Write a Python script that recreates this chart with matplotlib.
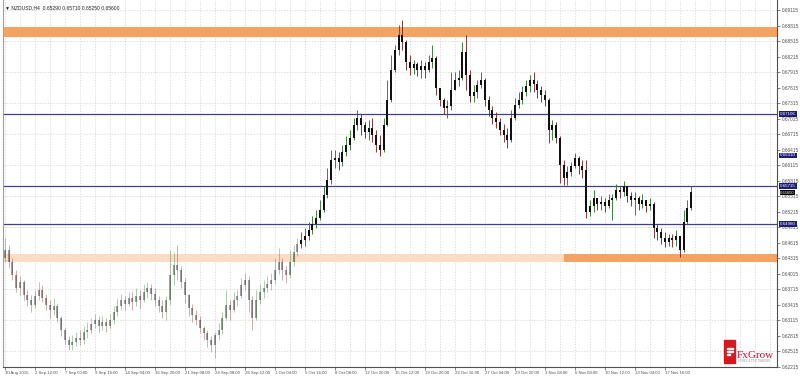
import matplotlib
matplotlib.use('Agg')
import matplotlib.pyplot as plt
import matplotlib.transforms as mtransforms
from matplotlib.colors import to_rgba
from matplotlib.patches import Rectangle
import numpy as np

# --- data: NZDUSD H4 candles ---
symbol = 'NZDUSD,H4'
first_open = 0.6432

closes = [
    0.6448, 0.6425, 0.6399, 0.6374, 0.6386, 0.6361, 0.6351, 0.6341, 0.6359, 0.6370,
    0.6355, 0.6341, 0.6332, 0.6340, 0.6316, 0.6293, 0.6274, 0.6264, 0.6270, 0.6278,
    0.6274, 0.6289, 0.6293, 0.6305, 0.6312, 0.6301, 0.6309, 0.6301, 0.6312, 0.6328,
    0.6340, 0.6351, 0.6343, 0.6355, 0.6347, 0.6359, 0.6351, 0.6367, 0.6374, 0.6363,
    0.6351, 0.6340, 0.6328, 0.6351, 0.6399, 0.6419, 0.6409, 0.6386, 0.6361, 0.6336,
    0.6322, 0.6312, 0.6297, 0.6287, 0.6274, 0.6264, 0.6283, 0.6293, 0.6316, 0.6341,
    0.6332, 0.6351, 0.6359, 0.6380, 0.6390, 0.6351, 0.6316, 0.6351, 0.6367, 0.6374,
    0.6382, 0.6390, 0.6409, 0.6425, 0.6409, 0.6399, 0.6425, 0.6444, 0.6459, 0.6467,
    0.6475, 0.6486, 0.6498, 0.6510, 0.6525, 0.6554, 0.6583, 0.6622, 0.6626, 0.6618,
    0.6637, 0.6651, 0.6664, 0.6689, 0.6703, 0.6689, 0.6676, 0.6684, 0.6670, 0.6651,
    0.6641, 0.6689, 0.6738, 0.6796, 0.6834, 0.6863, 0.6850, 0.6811, 0.6800, 0.6807,
    0.6796, 0.6803, 0.6796, 0.6811, 0.6819, 0.6761, 0.6738, 0.6722, 0.6726, 0.6757,
    0.6776, 0.6780, 0.6830, 0.6786, 0.6745, 0.6753, 0.6767, 0.6776, 0.6738, 0.6718,
    0.6703, 0.6695, 0.6680, 0.6670, 0.6660, 0.6703, 0.6728, 0.6738, 0.6753, 0.6765,
    0.6776, 0.6769, 0.6757, 0.6747, 0.6738, 0.6680, 0.6689, 0.6664, 0.6612, 0.6587,
    0.6599, 0.6610, 0.6626, 0.6610, 0.6602, 0.6521, 0.6533, 0.6548, 0.6537, 0.6541,
    0.6533, 0.6544, 0.6548, 0.6564, 0.6560, 0.6571, 0.6552, 0.6544, 0.6548, 0.6537,
    0.6544, 0.6533, 0.6537, 0.6490, 0.6483, 0.6471, 0.6463, 0.6471, 0.6467, 0.6475,
    0.6448, 0.6502, 0.6529, 0.6560,
]

highs = [
    0.6471, 0.6457, 0.6432, 0.6409, 0.6397, 0.6390, 0.6370, 0.6361, 0.6370, 0.6386,
    0.6380, 0.6363, 0.6351, 0.6355, 0.6343, 0.6320, 0.6297, 0.6282, 0.6283, 0.6289,
    0.6293, 0.6301, 0.6309, 0.6316, 0.6324, 0.6320, 0.6320, 0.6316, 0.6324, 0.6340,
    0.6355, 0.6363, 0.6359, 0.6367, 0.6367, 0.6374, 0.6370, 0.6382, 0.6386, 0.6382,
    0.6374, 0.6359, 0.6351, 0.6359, 0.6448, 0.6444, 0.6457, 0.6417, 0.6394, 0.6363,
    0.6343, 0.6332, 0.6320, 0.6301, 0.6293, 0.6282, 0.6289, 0.6307, 0.6328, 0.6370,
    0.6351, 0.6367, 0.6370, 0.6394, 0.6403, 0.6397, 0.6359, 0.6370, 0.6382, 0.6390,
    0.6397, 0.6403, 0.6432, 0.6452, 0.6432, 0.6417, 0.6448, 0.6457, 0.6471, 0.6483,
    0.6490, 0.6502, 0.6513, 0.6525, 0.6544, 0.6571, 0.6606, 0.6641, 0.6641, 0.6637,
    0.6651, 0.6668, 0.6680, 0.6703, 0.6718, 0.6711, 0.6695, 0.6699, 0.6703, 0.6680,
    0.6670, 0.6703, 0.6776, 0.6825, 0.6844, 0.6883, 0.6892, 0.6854, 0.6825, 0.6815,
    0.6811, 0.6815, 0.6811, 0.6825, 0.6844, 0.6823, 0.6761, 0.6742, 0.6738, 0.6792,
    0.6792, 0.6796, 0.6850, 0.6863, 0.6796, 0.6767, 0.6776, 0.6792, 0.6780, 0.6745,
    0.6726, 0.6715, 0.6703, 0.6691, 0.6684, 0.6718, 0.6742, 0.6753, 0.6765, 0.6776,
    0.6786, 0.6792, 0.6776, 0.6765, 0.6757, 0.6742, 0.6699, 0.6695, 0.6668, 0.6622,
    0.6610, 0.6618, 0.6635, 0.6629, 0.6622, 0.6622, 0.6544, 0.6564, 0.6548, 0.6552,
    0.6548, 0.6556, 0.6556, 0.6575, 0.6571, 0.6581, 0.6571, 0.6560, 0.6560, 0.6552,
    0.6556, 0.6544, 0.6548, 0.6541, 0.6498, 0.6490, 0.6483, 0.6479, 0.6479, 0.6486,
    0.6475, 0.6525, 0.6544, 0.6571,
]

lows = [
    0.6425, 0.6413, 0.6390, 0.6367, 0.6361, 0.6351, 0.6340, 0.6328, 0.6336, 0.6351,
    0.6347, 0.6332, 0.6316, 0.6322, 0.6309, 0.6282, 0.6266, 0.6254, 0.6254, 0.6262,
    0.6264, 0.6266, 0.6278, 0.6285, 0.6297, 0.6289, 0.6293, 0.6289, 0.6297, 0.6305,
    0.6320, 0.6332, 0.6332, 0.6340, 0.6332, 0.6340, 0.6336, 0.6347, 0.6355, 0.6351,
    0.6340, 0.6328, 0.6316, 0.6312, 0.6341, 0.6380, 0.6390, 0.6374, 0.6345, 0.6320,
    0.6309, 0.6303, 0.6287, 0.6274, 0.6260, 0.6251, 0.6239, 0.6274, 0.6285, 0.6312,
    0.6312, 0.6328, 0.6340, 0.6355, 0.6370, 0.6328, 0.6293, 0.6312, 0.6343, 0.6355,
    0.6367, 0.6370, 0.6382, 0.6401, 0.6390, 0.6384, 0.6394, 0.6417, 0.6436, 0.6452,
    0.6455, 0.6467, 0.6479, 0.6490, 0.6506, 0.6521, 0.6548, 0.6575, 0.6606, 0.6602,
    0.6610, 0.6629, 0.6641, 0.6660, 0.6680, 0.6670, 0.6664, 0.6660, 0.6656, 0.6637,
    0.6629, 0.6637, 0.6687, 0.6734, 0.6792, 0.6825, 0.6834, 0.6796, 0.6786, 0.6788,
    0.6784, 0.6780, 0.6780, 0.6792, 0.6800, 0.6747, 0.6726, 0.6711, 0.6703, 0.6718,
    0.6757, 0.6765, 0.6776, 0.6757, 0.6734, 0.6734, 0.6742, 0.6761, 0.6726, 0.6707,
    0.6691, 0.6684, 0.6670, 0.6656, 0.6645, 0.6656, 0.6699, 0.6722, 0.6730, 0.6745,
    0.6753, 0.6753, 0.6742, 0.6734, 0.6726, 0.6655, 0.6660, 0.6655, 0.6577, 0.6573,
    0.6573, 0.6591, 0.6606, 0.6595, 0.6587, 0.6510, 0.6513, 0.6521, 0.6525, 0.6525,
    0.6521, 0.6529, 0.6506, 0.6544, 0.6548, 0.6552, 0.6541, 0.6533, 0.6515, 0.6525,
    0.6529, 0.6521, 0.6525, 0.6471, 0.6467, 0.6459, 0.6454, 0.6455, 0.6454, 0.6455,
    0.6434, 0.6444, 0.6498, 0.6525,
]

time_labels = ['30 Aug 2015', '2 Sep 12:00', '7 Sep 00:00', '9 Sep 16:00', '14 Sep 04:00',
               '16 Sep 20:00', '21 Sep 08:00', '24 Sep 08:00', '28 Sep 12:00', '1 Oct 04:00',
               '5 Oct 16:00', '8 Oct 08:00', '12 Oct 20:00', '15 Oct 12:00', '19 Oct 20:00',
               '22 Oct 16:00', '27 Oct 04:00', '29 Oct 20:00', '3 Nov 08:00', '6 Nov 08:00',
               '10 Nov 12:00', '13 Nov 04:00', '17 Nov 16:00']
bars_per_label = 8

# drawn levels
resistance_zone = (0.68595, 0.68788)
support_zone = (0.64245, 0.64400)
support_split_bar = 149          # light part of the support zone ends here
level_lines = [0.67106, 0.65715, 0.64980]
level_boxes = [0.67106, 0.66310, 0.65715, 0.64980]
fade_before = 79                 # older candles are shown greyed out

# --- figure ---
W, H = 800, 376
fig = plt.figure(figsize=(W / 100, H / 100), dpi=100)
fig.patch.set_facecolor('white')
ax = fig.add_axes([3 / W, 9 / H, 774 / W, 367 / H])
ax.set_facecolor('white')

n = len(closes)
x = np.arange(n)
o = np.array([first_open] + closes[:-1])
c = np.array(closes)
h = np.maximum(np.array(highs), np.maximum(o, c))
l = np.minimum(np.array(lows), np.minimum(o, c))
bull = c >= o

ax.set_xlim(-0.5, 205.9)
ax.set_ylim(0.62216, 0.6931)

# grid
price_ticks = np.round(0.69115 - 0.003 * np.arange(24), 5)
for p in price_ticks[::2]:
    ax.axhline(p, color='#d2d2d2', lw=0.5, ls=(0, (2, 2)), zorder=0)
for gx in range(0, 206, bars_per_label // 2):
    ax.axvline(gx, color='#d2d2d2', lw=0.5, ls=(0, (2, 2)), zorder=0)

# zones
ax.axhspan(*resistance_zone, color='#f4a460', lw=0, zorder=1)
ax.fill_between([-0.5, support_split_bar], support_zone[0], support_zone[1],
                color='#fcdcc4', lw=0, zorder=1)
ax.fill_between([support_split_bar, 205.9], support_zone[0], support_zone[1],
                color='#f4a460', lw=0, zorder=1)
for lv in level_lines:
    ax.axhline(lv, color='#40408a', lw=0.9, zorder=2)

# candles
alpha = np.where(x < fade_before, 0.4, 1.0)
wick_cols = [to_rgba('#1f6f1f' if b else '#7a1717', a) for b, a in zip(bull, alpha)]
body_cols = [to_rgba('#101010', a) for a in alpha]
ax.vlines(x, l, h, colors=wick_cols, lw=0.6, zorder=3)
ax.bar(x, np.maximum(np.abs(c - o), 0.00006), bottom=np.minimum(o, c), width=0.55,
       color=body_cols, lw=0, zorder=4)

# spines
ax.spines['top'].set_visible(False)
ax.spines['left'].set_color('#a0a0a0')
ax.spines['right'].set_color('#505050')
ax.spines['bottom'].set_color('#505050')
for s in ['left', 'right', 'bottom']:
    ax.spines[s].set_linewidth(0.8)

# price axis
font = 'Liberation Sans'
ax.yaxis.tick_right()
ax.set_yticks(price_ticks)
ax.set_yticklabels([f'{p:.5f}' for p in price_ticks], fontsize=3.4, family=font, color='#444444')
ax.tick_params(axis='y', length=2.5, width=0.5, pad=1, colors='#505050')

label_pos = [i * bars_per_label for i in range(len(time_labels))]
ax.set_xticks(label_pos)
ax.set_xticklabels(time_labels, fontsize=3.1, family=font, color='#444444', ha='left')
ax.tick_params(axis='x', length=2, width=0.5, pad=1, colors='#505050')

trans = mtransforms.blended_transform_factory(ax.transAxes, ax.transData)
for lv in level_boxes:
    ax.text(1.004, lv, f'{lv:.5f}', transform=trans, fontsize=3.2, family=font,
            color='white', va='center', ha='left', clip_on=False, zorder=6,
            bbox=dict(boxstyle='square,pad=0.15', fc='#1e1e78', ec='none'))
ax.text(1.004, c[-1] - 0.0002, f'{c[-1]:.5f}', transform=trans, fontsize=3.0, family=font,
        color='white', va='center', ha='left', clip_on=False, zorder=7,
        bbox=dict(boxstyle='square,pad=0.12', fc='#000000', ec='none'))

# header
ax.text(0.003, 0.985, f'\u25bc {symbol}  {o[-1]:.5f} {h[-1]:.5f} {l[-1]:.5f} {c[-1]:.5f}',
        transform=ax.transAxes, fontsize=3.6, family=['Liberation Sans', 'DejaVu Sans'],
        color='#222222', va='top', ha='left')

# FxGrow badge
fig.add_artist(Rectangle((724 / W, 1 - 363 / H), 11 / W, 23 / H,
                         transform=fig.transFigure, color='#d7191f', zorder=10))
for k, wdt in enumerate([6, 6, 3]):
    fig.add_artist(Rectangle((726.5 / W, 1 - (349 + 3 * k) / H), wdt / W, 1.2 / H,
                             transform=fig.transFigure, color='white', zorder=11))
fig.text(737 / W, 1 - 358 / H, 'FxGrow', fontsize=8, family='Liberation Serif',
         color='#c8102e', ha='left', va='baseline', zorder=11)
fig.text(738 / W, 1 - 362.5 / H, 'FOREX & CFD TRADING', fontsize=2, family=font,
         color='#999999', ha='left', va='baseline', zorder=11)

fig.savefig('out.png', dpi=100, facecolor='white')
